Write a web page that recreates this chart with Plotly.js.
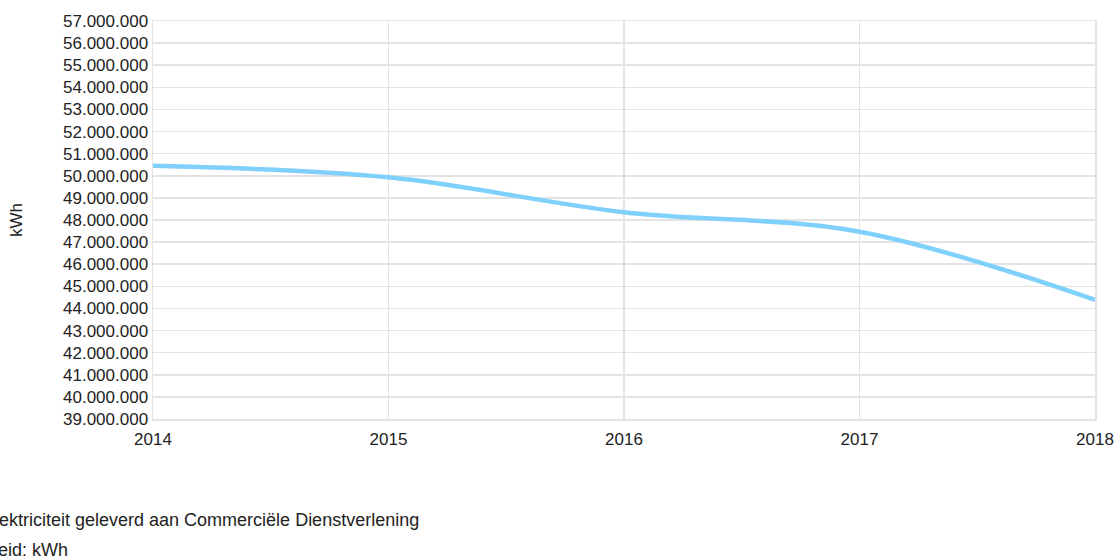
<!DOCTYPE html>
<html>
<head>
<meta charset="utf-8">
<script src="https://cdn.plot.ly/plotly-3.0.1.min.js"></script>
<style>
  html, body { margin: 0; padding: 0; background: #fff; }
  #chart { width: 1120px; height: 560px; }
</style>
</head>
<body>
<div id="chart"></div>
<script>
// jaarlijkse levering (kWh)
var years = [2014, 2015, 2016, 2017, 2018];
var kwh = [50450000, 49930000, 48350000, 47470000, 44390000];

var subject = "Elektriciteit geleverd aan Commerciële Dienstverlening";
var unitLine = "Eenheid: kWh";

var textColor = "#222222";
var gridColor = "#e3e3e3";

var trace = {
    x: years,
    y: kwh,
    type: 'scatter',
    mode: 'lines',
    line: { color: '#7fd0fb', width: 4.5, shape: 'spline', smoothing: 1 },
    hoverinfo: 'x+y'
};

var layout = {
    width: 1120,
    height: 560,
    margin: { l: 153, r: 25, t: 21, b: 141 },
    paper_bgcolor: '#ffffff',
    plot_bgcolor: '#ffffff',
    separators: ',.',
    showlegend: false,
    font: { family: 'Arial, "Liberation Sans", sans-serif', size: 17, color: textColor },
    xaxis: {
        range: [2014, 2018],
        tickvals: years,
        ticktext: years.map(String),
        ticklabelstandoff: 4,
        showgrid: true,
        gridcolor: gridColor,
        gridwidth: 1.5,
        zeroline: false,
        showline: true,
        linecolor: gridColor,
        linewidth: 1.5,
        mirror: true,
        ticks: '',
        fixedrange: true
    },
    yaxis: {
        range: [39000000, 57000000],
        dtick: 1000000,
        tickformat: ',d',
        showgrid: true,
        gridcolor: gridColor,
        gridwidth: 1.5,
        zeroline: false,
        showline: true,
        linecolor: gridColor,
        linewidth: 1.5,
        mirror: true,
        ticks: '',
        fixedrange: true,
        title: { text: 'kWh', standoff: 36, font: { size: 17, color: textColor } }
    },
    // the two caption lines start left of the page edge, as in the original
    annotations: [
        {
            text: subject, xref: 'paper', yref: 'paper',
            x: 0, y: 0, xanchor: 'left', yanchor: 'middle',
            xshift: -172, yshift: -101, showarrow: false,
            font: { size: 18, color: textColor }
        },
        {
            text: unitLine, xref: 'paper', yref: 'paper',
            x: 0, y: 0, xanchor: 'left', yanchor: 'middle',
            xshift: -199, yshift: -131, showarrow: false,
            font: { size: 18, color: textColor }
        }
    ]
};

Plotly.newPlot('chart', [trace], layout, { displayModeBar: false, staticPlot: true });
</script>
</body>
</html>
